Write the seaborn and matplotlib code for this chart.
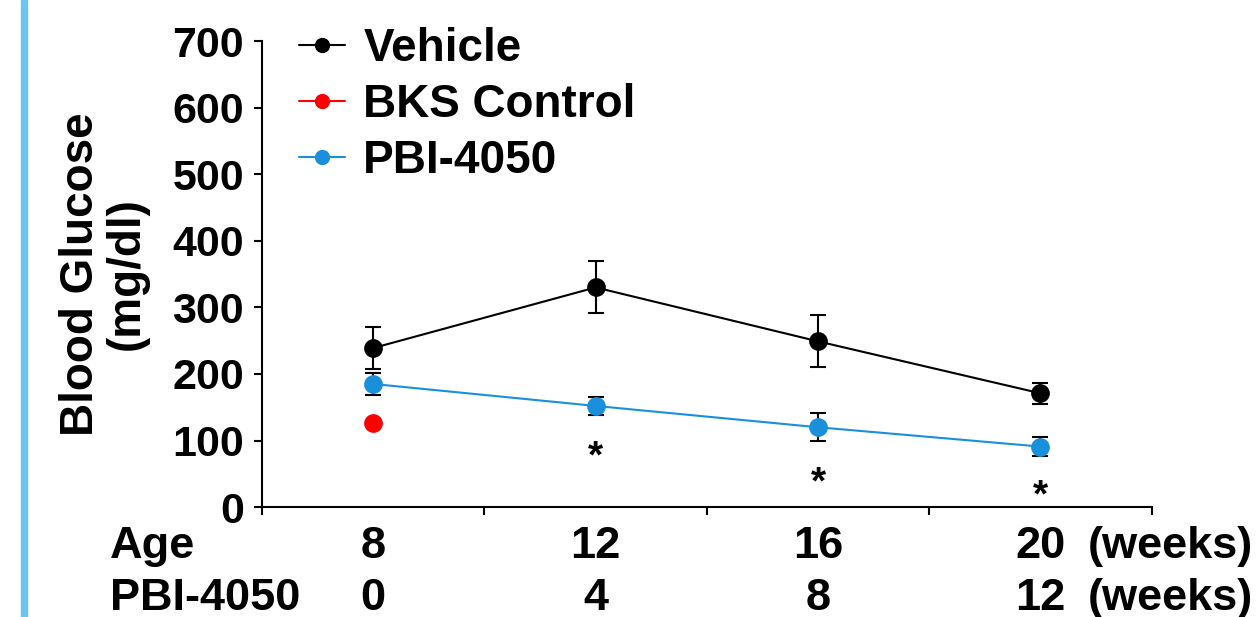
import numpy as np
import pandas as pd
import matplotlib
matplotlib.use("Agg")
import matplotlib.pyplot as plt
import matplotlib.transforms as mtransforms
from matplotlib.lines import Line2D
import seaborn as sns

# Data: blood glucose (mg/dl), mean and error, by age in weeks
ages = [8, 12, 16, 20]
treatment_weeks = [0, 4, 8, 12]
vehicle_mean = [239, 330, 249, 171]
vehicle_err = [31, 39, 39, 16]
pbi_mean = [185, 152, 120, 91]
pbi_err = [16, 13, 21, 14]
bks_age = [8]
bks_mean = [127]
star_ages = [12, 16, 20]
star_y = [74, 36, 16]

groups = ["Vehicle", "BKS Control", "PBI-4050"]
colors = {"Vehicle": "#000000", "BKS Control": "#FF0000", "PBI-4050": "#1A8FDB"}

df = pd.concat([
    pd.DataFrame({"age": ages, "glucose": vehicle_mean, "err": vehicle_err, "group": "Vehicle"}),
    pd.DataFrame({"age": bks_age, "glucose": bks_mean, "err": [0], "group": "BKS Control"}),
    pd.DataFrame({"age": ages, "glucose": pbi_mean, "err": pbi_err, "group": "PBI-4050"}),
], ignore_index=True)

sns.set_theme(style="ticks")
plt.rcParams["font.family"] = ["Liberation Sans", "DejaVu Sans"]
plt.rcParams["font.weight"] = "bold"
for key in ["text.color", "axes.labelcolor", "xtick.color", "ytick.color", "axes.edgecolor"]:
    plt.rcParams[key] = "black"

fig = plt.figure(figsize=(12.6, 6.17), dpi=100)
ax = fig.add_axes([0.208, 0.178, 0.706, 0.7555])

# error bars first so markers sit on top
for g in ["Vehicle", "PBI-4050"]:
    sub = df[df.group == g]
    ax.errorbar(sub.age, sub.glucose, yerr=sub.err, fmt="none", ecolor="black",
                elinewidth=1.5, capsize=6, capthick=1.5, zorder=2)

sns.lineplot(data=df, x="age", y="glucose", hue="group", hue_order=groups,
             palette=colors, marker="o", markersize=13.5, markeredgewidth=0,
             linewidth=1.5, legend=False, ax=ax, zorder=3)

# significance markers
for a, y in zip(star_ages, star_y):
    ax.text(a, y, "*", ha="center", va="center", fontsize=28, fontweight="bold")

ax.set_xlim(6, 22)
ax.set_ylim(0, 700)
ax.set_xticks([6, 10, 14, 18, 22])
ax.set_xticklabels([])
ax.set_yticks(range(0, 701, 100))
ax.tick_params(axis="y", labelsize=31, length=6, width=1.5, pad=7)
ax.tick_params(axis="x", length=6, width=1.5)
for lbl in ax.get_yticklabels():
    lbl.set_fontweight("bold")
for side in ["top", "right"]:
    ax.spines[side].set_visible(False)
for side in ["left", "bottom"]:
    ax.spines[side].set_linewidth(1.5)
ax.set_xlabel("")
ax.set_ylabel("")
fig.text(104 / 1260, 1 - 274 / 617, "Blood Glucose\n(mg/dl)", rotation=90,
         ha="center", va="center", multialignment="center",
         fontsize=33, fontweight="bold", linespacing=1.05)

handles = [Line2D([0], [0], color=colors[g], marker="o", markersize=11,
                  markeredgewidth=0, linewidth=1.5) for g in groups]
leg = ax.legend(handles, groups, loc="upper left", bbox_to_anchor=(0.021, 1.07),
                frameon=False, handlelength=1.0, handletextpad=0.4,
                labelspacing=0.26, borderaxespad=0.0,
                prop={"size": 33, "weight": "bold"})

# two rows of x labels: age and treatment duration
trans = mtransforms.blended_transform_factory(ax.transData, ax.transAxes)
ftrans = mtransforms.blended_transform_factory(fig.transFigure, ax.transAxes)
row_y = [-0.1094, -0.221]
for yy, name, vals in zip(row_y, ["Age", "PBI-4050"], [ages, treatment_weeks]):
    fig.text(110 / 1260, yy, name, transform=ftrans,
             fontsize=32.5, fontweight="bold", va="baseline", ha="left")
    for a, v in zip(ages, vals):
        ax.text(a, yy, str(v), transform=trans, ha="center", va="baseline",
                fontsize=32.5, fontweight="bold", clip_on=False)
    fig.text(1088 / 1260, yy, "(weeks)", transform=ftrans, ha="left", va="baseline",
             fontsize=32.5, fontweight="bold")

# vertical accent bar on the left edge
fig.patches.append(plt.Rectangle((21 / 1260, 0), 6 / 1260, 1, transform=fig.transFigure,
                                 color="#6CC4F5", zorder=0))

fig.savefig("out.png", dpi=100)
